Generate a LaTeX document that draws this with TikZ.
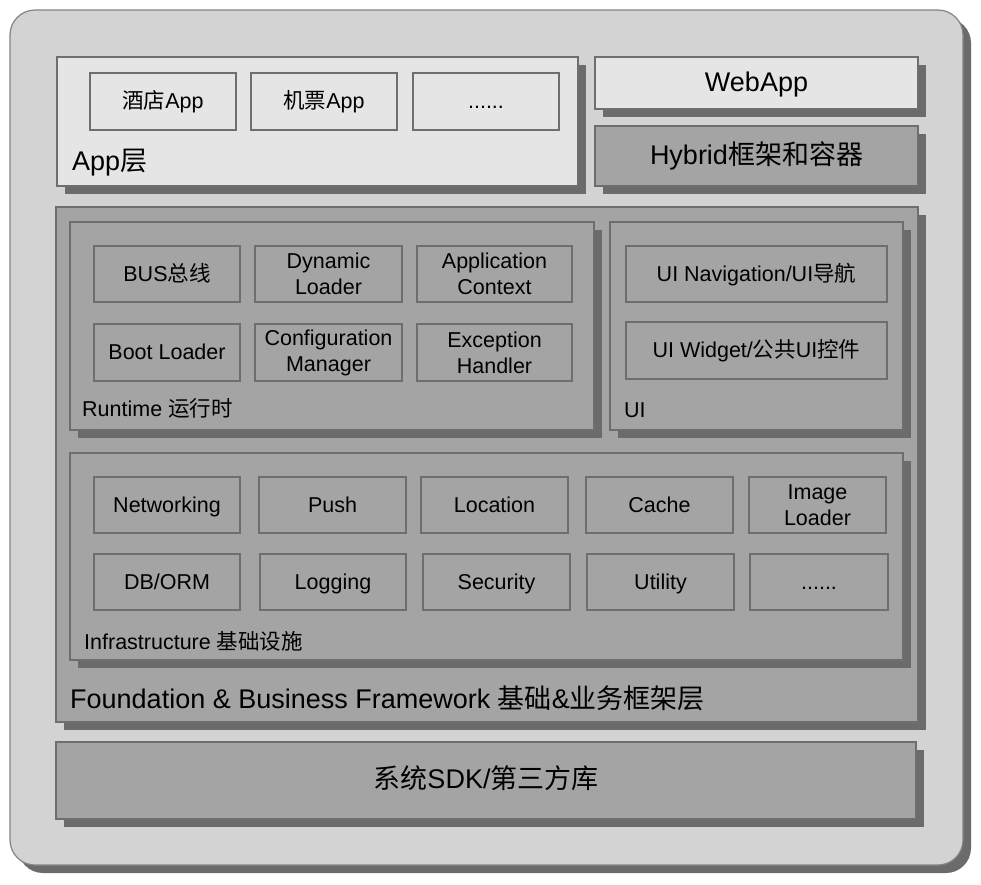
\documentclass[tikz,border=0pt]{standalone}
\usepackage{fontspec}
\setmainfont{Liberation Sans}
\newfontfamily\cjk{Noto Sans CJK SC}
\usetikzlibrary{shadows}
\definecolor{outerc}{HTML}{D3D3D3}
\definecolor{lightc}{HTML}{E5E5E5}
\definecolor{grayc}{HTML}{A4A4A4}
\definecolor{shadc}{HTML}{6B6B6B}
\definecolor{linec}{HTML}{6E6E6E}
\tikzset{
  base/.style={draw=linec, line width=1.2pt, inner sep=0pt, outer sep=0pt, text=black,
    align=center, font=\fontsize{21.5}{26}\selectfont},
  shad/.style={general shadow={shadow xshift=7.5pt, shadow yshift=-7.5pt, fill=shadc}},
  one/.style={text height=18pt, text depth=4pt},
  lightbox/.style={base, fill=lightc},
  graybox/.style={base, fill=grayc},
  gb/.style={graybox, one},
  layer/.style={graybox, shad},
  bigfont/.style={font=\fontsize{27}{32}\selectfont},
  bigone/.style={bigfont, text height=22pt, text depth=6pt},
  lbl/.style={anchor=west, inner sep=0pt, text=black, font=\fontsize{21.5}{25}\selectfont},
  biglbl/.style={lbl, bigfont},
}
\newcommand\bx[7]{\node[#6, minimum width={(#4-#2)*1pt}, minimum height={(#5-#3)*1pt}] (#1) at ({(#2+#4)/2},{(#3+#5)/2}) {#7};}
\begin{document}
\begin{tikzpicture}[x=1pt,y=-1pt]
\useasboundingbox[fill=white] (0,0) rectangle (981,884);
% outer frame
\bx{outer}{10}{10}{963}{865}{base, fill=outerc, draw=linec!85, rounded corners=25pt, general shadow={shadow xshift=8pt, shadow yshift=-8pt, fill=shadc}}{}
% App layer
\bx{app}{57}{57}{578}{186}{lightbox,shad}{}
\bx{hotel}{90}{73}{236}{130}{lightbox,one}{{\cjk 酒店}App}
\bx{flight}{251}{73}{397}{130}{lightbox,one}{{\cjk 机票}App}
\bx{appmore}{413}{73}{559}{130}{lightbox,one}{......}
\node[biglbl] (applbl) at (72,163) {App{\cjk 层}};
\bx{webapp}{595}{57}{918}{109}{lightbox,shad,bigone}{WebApp}
\bx{hybrid}{595}{126}{918}{186}{graybox,shad,bigone}{Hybrid{\cjk 框架和容器}}
% Foundation
\bx{found}{56}{207}{918}{722}{layer}{}
\bx{runtime}{70}{222}{594}{430}{layer}{}
\bx{bus}{94}{246}{240}{302}{gb}{BUS{\cjk 总线}}
\bx{dyn}{255}{246}{402}{302}{graybox}{Dynamic\\Loader}
\bx{appctx}{417}{246}{572}{302}{graybox}{Application\\Context}
\bx{boot}{94}{324}{240}{381}{gb}{Boot Loader}
\bx{conf}{255}{324}{402}{381}{graybox}{Configuration\\Manager}
\bx{exc}{417}{324}{572}{381}{graybox}{Exception\\Handler}
\node[lbl] (rtlbl) at (82,408) {Runtime {\cjk 运行时}};
\bx{ui}{610}{222}{903}{430}{layer}{}
\bx{uinav}{626}{246}{887}{302}{gb}{UI Navigation/UI{\cjk 导航}}
\bx{uiwid}{626}{322}{887}{379}{gb}{UI Widget/{\cjk 公共}UI{\cjk 控件}}
\node[lbl] (uilbl) at (624,410) {UI};
\bx{infra}{70}{453}{903}{660}{layer}{}
\bx{net}{94}{477}{240}{533}{gb}{Networking}
\bx{push}{259}{477}{406}{533}{gb}{Push}
\bx{loc}{421}{477}{568}{533}{gb}{Location}
\bx{cache}{586}{477}{733}{533}{gb}{Cache}
\bx{img}{749}{477}{886}{533}{graybox}{Image\\Loader}
\bx{db}{94}{554}{240}{610}{gb}{DB/ORM}
\bx{log}{260}{554}{406}{610}{gb}{Logging}
\bx{sec}{423}{554}{570}{610}{gb}{Security}
\bx{util}{587}{554}{734}{610}{gb}{Utility}
\bx{inmore}{750}{554}{888}{610}{gb}{......}
\node[lbl] (inlbl) at (84,641) {Infrastructure {\cjk 基础设施}};
\node[biglbl] (fdlbl) at (70,698) {Foundation \& Business Framework {\cjk 基础}\&{\cjk 业务框架层}};
% SDK
\bx{sdk}{56}{742}{916}{819}{layer,bigone}{{\cjk 系统}SDK/{\cjk 第三方库}}
\end{tikzpicture}
\end{document}
